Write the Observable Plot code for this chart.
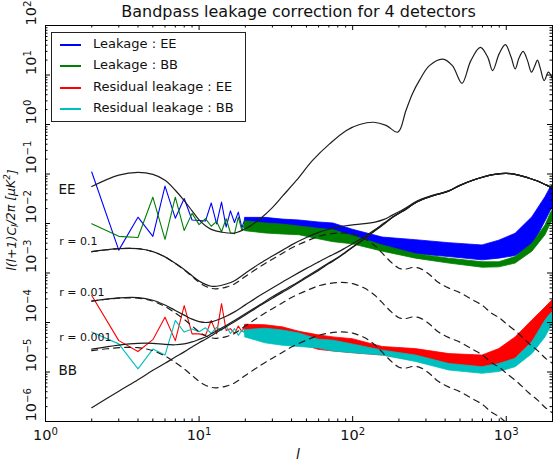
<!DOCTYPE html>
<html><head><meta charset="utf-8">
<script src="https://cdn.jsdelivr.net/npm/d3@7"></script>
<script src="https://cdn.jsdelivr.net/npm/@observablehq/plot@0.6"></script>
<style>
body{margin:0;background:#fff;font-family:"DejaVu Sans",sans-serif;}
#wrap{position:relative;width:559px;height:465px;overflow:hidden;}
#title{position:absolute;left:45px;width:507px;top:2px;text-align:center;font-size:16px;color:#111;white-space:nowrap;}
#chart{position:absolute;left:0;top:24px;}
#legend{position:absolute;left:51px;top:32px;width:193px;height:88px;border:1px solid #222;background:#fff;}
.row{position:absolute;left:0;height:18px;width:190px;}
.sw{position:absolute;left:8px;top:9px;width:21px;height:2px;}
.lt{position:absolute;left:41px;top:0;font-size:13px;line-height:18px;color:#111;white-space:nowrap;font-family:"DejaVu Sans";}
</style></head><body>
<div id="wrap">
<div id="title">Bandpass leakage correction for 4 detectors</div>
<div id="chart"></div>
<div id="legend"></div>
</div>
<script>
// ---------- low-multipole per-l values of the measured spectra ----------
const ellLow = [2,3,4,5,6,7,8,9,10,11,12,13,14,15,16,17,18,19,20];
const blueLow  = [0.11,0.0029,0.0134,0.0055,0.057,0.0128,0.032,0.0118,0.0115,0.0112,0.026,0.0098,0.027,0.0085,0.018,0.0105,0.017,0.0082,0.013];
const greenLow = [0.0099,0.0055,0.0052,0.034,0.0048,0.034,0.0072,0.016,0.0095,0.0125,0.0088,0.011,0.0068,0.0125,0.0065,0.0062,0.0135,0.0072,0.0105];
const redLow   = [3.5e-4,4.3e-5,2.6e-5,4.5e-5,1.28e-4,4.3e-5,2.2e-4,5.9e-5,5.9e-5,5.5e-5,1.1e-4,5.9e-5,2.4e-4,6.9e-5,7.5e-5,6.0e-5,8.5e-5,6.5e-5,9.0e-5];
const cyanLow  = [6.4e-5,3.7e-5,1.16e-5,2.9e-5,2.2e-5,1.1e-4,6.4e-5,7.4e-5,6.5e-5,7.8e-5,6.0e-5,8.0e-5,7.0e-5,8.5e-5,6.0e-5,7.5e-5,5.5e-5,7.0e-5,6.0e-5];

// ---------- high-multipole noise envelopes (lower / upper) ----------
const bandEll = [20,27,35,45,60,75,100,157,258,426,700,900,1150,1480,1800,1950,2000];
const blueLo  = [8.0e-3,7.8e-3,7.0e-3,6.6e-3,5.6e-3,4.9e-3,4.0e-3,3.1e-3,2.4e-3,2.1e-3,1.8e-3,1.95e-3,2.2e-3,3.5e-3,1.1e-2,1.8e-2,2.0e-2];
const blueHi  = [1.3e-2,1.3e-2,1.2e-2,1.15e-2,1.05e-2,1.0e-2,7.5e-3,5.2e-3,4.6e-3,4.0e-3,3.6e-3,4.5e-3,6.2e-3,1.34e-2,3.4e-2,5.4e-2,5.8e-2];
const greenLo = [7.0e-3,6.3e-3,6.0e-3,5.8e-3,4.8e-3,4.2e-3,3.8e-3,2.7e-3,1.95e-3,1.55e-3,1.28e-3,1.3e-3,1.55e-3,2.7e-3,5.8e-3,9.8e-3,1.1e-2];
const greenHi = [1.1e-2,1.0e-2,9.5e-3,8.7e-3,7.8e-3,7.3e-3,5.6e-3,3.6e-3,2.4e-3,1.95e-3,1.65e-3,1.65e-3,2.1e-3,3.9e-3,9.1e-3,1.6e-2,1.8e-2];
const redLo   = [6.0e-5,5.0e-5,4.3e-5,3.7e-5,2.8e-5,2.6e-5,2.4e-5,2.15e-5,1.7e-5,1.35e-5,1.07e-5,1.25e-5,1.85e-5,4.0e-5,1.05e-4,1.5e-4,1.6e-4];
const redHi   = [9.0e-5,8.8e-5,8.0e-5,6.5e-5,5.5e-5,5.0e-5,4.6e-5,3.2e-5,2.9e-5,2.3e-5,2.15e-5,2.9e-5,5.0e-5,1.1e-4,2.0e-4,2.6e-4,2.8e-4];
const cyanLo  = [5.0e-5,3.8e-5,3.4e-5,3.2e-5,3.0e-5,2.6e-5,2.4e-5,2.15e-5,1.6e-5,1.07e-5,9.2e-6,1.0e-5,1.25e-5,2.3e-5,5.0e-5,8.0e-5,8.5e-5];
const cyanHi  = [7.0e-5,7.5e-5,6.9e-5,6.0e-5,4.5e-5,4.3e-5,3.6e-5,2.7e-5,2.15e-5,1.45e-5,1.25e-5,1.45e-5,1.85e-5,4.0e-5,1.1e-4,1.5e-4,1.6e-4];

// ---------- theory curves ----------
const ell = [2,3,4,5,6,7,8,9,10,11,12,13,15,17,20,25,30,35,40,50,60,70,80,90,100,120,140,160,180,200,220,250,280,320,360,420,500,600,700,800,900,1000,1200,1400,1600,1800,2000];
const lensBB = [1.9e-6,4.1e-6,7.0e-6,1.08e-5,1.5e-5,2.0e-5,2.55e-5,3.2e-5,3.9e-5,4.6e-5,5.4e-5,6.3e-5,8.2e-5,1.04e-4,1.42e-4,2.2e-4,3.1e-4,4.1e-4,5.2e-4,8.0e-4,1.13e-3,1.55e-3,2.0e-3,2.6e-3,3.3e-3,5.0e-3,7.2e-3,9.8e-3,1.3e-2,1.6e-2,1.9e-2,2.5e-2,3.0e-2,3.5e-2,3.9e-2,4.5e-2,5.9e-2,7.4e-2,8.6e-2,9.6e-2,0.101,0.103,0.095,0.083,0.072,0.061,0.052];
const total01 = [2.7e-3,3.1e-3,3.11e-3,2.71e-3,2.12e-3,1.57e-3,1.18e-3,8.8e-4,6.9e-4,5.9e-4,5.4e-4,5.4e-4,6.0e-4,7.0e-4,9.9e-4,1.57e-3,2.2e-3,2.9e-3,3.7e-3,5.2e-3,6.6e-3,7.65e-3,8.4e-3,9.0e-3,9.4e-3,9.9e-3,1.07e-2,1.21e-2,1.46e-2,1.73e-2,2.02e-2,2.63e-2,3.12e-2,3.59e-2,3.97e-2,4.55e-2,5.94e-2,7.43e-2,8.62e-2,9.62e-2,0.1011,0.1031,0.0951,0.083,0.072,0.061,0.052];
const total001 = [2.72e-4,3.14e-4,3.17e-4,2.81e-4,2.25e-4,1.75e-4,1.41e-4,1.17e-4,1.04e-4,1.0e-4,1.03e-4,1.11e-4,1.34e-4,1.64e-4,2.27e-4,3.55e-4,5.0e-4,6.6e-4,8.4e-4,1.24e-3,1.68e-3,2.16e-3,2.64e-3,3.24e-3,3.91e-3,5.49e-3,7.55e-3,1.02e-2,1.32e-2,1.61e-2,1.91e-2,2.51e-2,3.01e-2,3.51e-2,3.91e-2,4.5e-2,5.9e-2,7.4e-2,8.6e-2,9.6e-2,0.101,0.103,0.095,0.083,0.072,0.061,0.052];
const total0001 = [2.9e-5,3.5e-5,3.8e-5,3.8e-5,3.6e-5,3.55e-5,3.7e-5,4.05e-5,4.55e-5,5.1e-5,5.9e-5,6.8e-5,8.7e-5,1.1e-4,1.5e-4,2.3e-4,3.3e-4,4.35e-4,5.5e-4,8.4e-4,1.19e-3,1.61e-3,2.06e-3,2.66e-3,3.36e-3,5.05e-3,7.24e-3,9.82e-3,1.3e-2,1.6e-2,1.9e-2,2.5e-2,3.0e-2,3.5e-2,3.9e-2,4.5e-2,5.9e-2,7.4e-2,8.6e-2,9.6e-2,0.101,0.103,0.095,0.083,0.072,0.061,0.052];
const tensor01 = [2.7e-3,3.1e-3,3.1e-3,2.7e-3,2.1e-3,1.55e-3,1.15e-3,8.5e-4,6.5e-4,5.4e-4,4.9e-4,4.8e-4,5.2e-4,6.0e-4,8.5e-4,1.35e-3,1.9e-3,2.5e-3,3.2e-3,4.4e-3,5.5e-3,6.1e-3,6.4e-3,6.4e-3,6.1e-3,4.9e-3,3.5e-3,2.3e-3,1.6e-3,1.25e-3,1.2e-3,1.3e-3,1.2e-3,9.0e-4,6.5e-4,5.0e-4,4.0e-4,2.9e-4,2.2e-4,1.55e-4,1.25e-4,9.5e-5,6.0e-5,3.8e-5,2.7e-5,1.9e-5,1.5e-5];
const tensor001 = [2.7e-4,3.1e-4,3.1e-4,2.7e-4,2.1e-4,1.55e-4,1.15e-4,8.5e-5,6.5e-5,5.4e-5,4.9e-5,4.8e-5,5.2e-5,6.0e-5,8.5e-5,1.35e-4,1.9e-4,2.5e-4,3.2e-4,4.4e-4,5.5e-4,6.1e-4,6.4e-4,6.4e-4,6.1e-4,4.9e-4,3.5e-4,2.3e-4,1.6e-4,1.25e-4,1.2e-4,1.3e-4,1.2e-4,9.0e-5,6.5e-5,5.0e-5,4.0e-5,2.9e-5,2.2e-5,1.55e-5,1.25e-5,9.5e-6,6.0e-6,3.8e-6,2.7e-6,1.9e-6,1.5e-6];
const tensor0001 = [2.7e-5,3.1e-5,3.1e-5,2.7e-5,2.1e-5,1.55e-5,1.15e-5,8.5e-6,6.5e-6,5.4e-6,4.9e-6,4.8e-6,5.2e-6,6.0e-6,8.5e-6,1.35e-5,1.9e-5,2.5e-5,3.2e-5,4.4e-5,5.5e-5,6.1e-5,6.4e-5,6.4e-5,6.1e-5,4.9e-5,3.5e-5,2.3e-5,1.6e-5,1.25e-5,1.2e-5,1.3e-5,1.2e-5,9.0e-6,6.5e-6,5.0e-6,4.0e-6,2.9e-6,2.2e-6,1.55e-6,1.25e-6,9.5e-7,6.0e-7,3.8e-7,2.7e-7,1.9e-7,1.5e-7];

const eeEll = [2,3,4,5,6,7,8,9,10,11,12,14,17,20,25,30,35,43,55,71,91,111,137,165,197,222,245,272,316,386,446,515,588,678,757,815,900,986,1075,1143,1210,1288,1375,1460,1530,1597,1670,1766,1880,2000];
const eeVal = [0.056,0.095,0.108,0.098,0.075,0.047,0.029,0.018,0.0118,0.009,0.0076,0.0067,0.0064,0.0078,0.0125,0.021,0.036,0.074,0.19,0.41,0.76,1.0,1.11,0.96,0.70,1.9,4.2,7.8,15.5,21,15.5,6.8,19.5,36,23,12.3,27,41,23,13.3,22,30,19.5,11.4,15,20,13.3,7.7,11.4,8.3];

// ---------- labels ----------
const seriesNames = ["Leakage : EE","Leakage : BB","Residual leakage : EE","Residual leakage : BB"];
const seriesColors = ["#0000ff","#008000","#ff0000","#00bfbf"];
const yTickValues = [1e-6,1e-5,1e-4,1e-3,1e-2,1e-1,1e0,1e1,1e2];
const yTickLabels = ["10^\u22126","10^\u22125","10^\u22124","10^\u22123","10^\u22122","10^\u22121","10^0","10^1","10^2"];
const xTickValues = [1,10,100,1000];
const xTickLabels = ["10^0","10^1","10^2","10^3"];
const annotText = ["EE","r = 0.1","r = 0.01","r = 0.001","BB"];
const annotEll  = [1.215,1.23,1.23,1.23,1.215];
const annotVal  = [0.0486,4.3e-3,4.0e-4,5.0e-5,1.07e-5];
const annotSize = [13.5,11,11,11,13.5];

// ---------- build tables ----------
const low = ellLow.map((l,i)=>({l, blue:blueLow[i], green:greenLow[i], red:redLow[i], cyan:cyanLow[i]}));
const band = bandEll.map((l,i)=>({l, bl:blueLo[i], bh:blueHi[i], gl:greenLo[i], gh:greenHi[i], rl:redLo[i], rh:redHi[i], cl:cyanLo[i], ch:cyanHi[i]}));
const th = ell.map((l,i)=>({l, lens:lensBB[i], t01:total01[i], t001:total001[i], t0001:total0001[i], p01:tensor01[i], p001:tensor001[i], p0001:tensor0001[i]}));
const ee = eeEll.map((l,i)=>({l, v:eeVal[i]}));
const annots = annotText.map((t,i)=>({t, l:annotEll[i], v:annotVal[i], s:annotSize[i]}));

const W = 559, H = 441, mT = 1, mB = 44, mL = 45, mR = 7;
const frameH = H - mT - mB, frameW = W - mL - mR;
const minorX = [], minorY = [];
for (let e = 0; e <= 3; e++) for (let k = 2; k <= 9; k++) { const v = k * 10 ** e; if (v <= 2000) minorX.push(v); }
for (let e = -6; e <= 1; e++) for (let k = 2; k <= 9; k++) minorY.push(k * 10 ** e);

const ink = "#1e1e1e";
function bandMarks(lo, hi, col) {
  return [
    Plot.areaY(band, {x:"l", y1:lo, y2:hi, fill:col, stroke:col, strokeWidth:0.8, clip:true})
  ];
}
const lineOpt = {x:"l", stroke:ink, strokeWidth:1.2, curve:"catmull-rom", clip:true};
const dashOpt = {...lineOpt, strokeDasharray:"6,5"};

const plot = Plot.plot({
  width: W, height: H, marginTop: mT, marginBottom: mB, marginLeft: mL, marginRight: mR,
  x: {type:"log", domain:[1,2000], axis:null},
  y: {type:"log", domain:[1e-6,1e2], axis:null},
  style: {fontFamily:"DejaVu Sans", background:"white", color:"#111", overflow:"visible"},
  marks: [
    Plot.line(low, {x:"l", y:"blue", stroke:seriesColors[0], strokeWidth:1.1, clip:true}),
    ...bandMarks("bl","bh",seriesColors[0]),
    Plot.line(low, {x:"l", y:"green", stroke:seriesColors[1], strokeWidth:1.1, clip:true}),
    ...bandMarks("gl","gh",seriesColors[1]),
    Plot.line(low, {x:"l", y:"red", stroke:seriesColors[2], strokeWidth:1.1, clip:true}),
    ...bandMarks("rl","rh",seriesColors[2]),
    Plot.line(low, {x:"l", y:"cyan", stroke:seriesColors[3], strokeWidth:1.1, clip:true}),
    ...bandMarks("cl","ch",seriesColors[3]),
    Plot.line(ee, {...lineOpt, y:"v"}),
    Plot.line(th, {...lineOpt, y:"lens"}),
    Plot.line(th, {...lineOpt, y:"t01"}),
    Plot.line(th, {...lineOpt, y:"t001"}),
    Plot.line(th, {...lineOpt, y:"t0001"}),
    Plot.line(th, {...dashOpt, y:"p01"}),
    Plot.line(th, {...dashOpt, y:"p001"}),
    Plot.line(th, {...dashOpt, y:"p0001"}),
    Plot.text(annots, {x:"l", y:"v", text:"t", fontSize:"s", textAnchor:"start", fill:"#111"}),
    // ticks (inward, all four sides)
    Plot.tickX(xTickValues, {x:d=>d, insetTop:frameH-5, stroke:"#000"}),
    Plot.tickX(xTickValues, {x:d=>d, insetBottom:frameH-5, stroke:"#000"}),
    Plot.tickX(minorX, {x:d=>d, insetTop:frameH-2.5, stroke:"#000"}),
    Plot.tickX(minorX, {x:d=>d, insetBottom:frameH-2.5, stroke:"#000"}),
    Plot.tickY(yTickValues, {y:d=>d, insetRight:frameW-5, stroke:"#000"}),
    Plot.tickY(yTickValues, {y:d=>d, insetLeft:frameW-5, stroke:"#000"}),
    Plot.tickY(minorY, {y:d=>d, insetRight:frameW-2.5, stroke:"#000"}),
    Plot.tickY(minorY, {y:d=>d, insetLeft:frameW-2.5, stroke:"#000"}),
    Plot.frame({stroke:"#000", strokeWidth:1}),
    // tick labels
    Plot.text(xTickValues, {x:d=>d, text:(d,i)=>xTickLabels[i], frameAnchor:"bottom", dy:14, lineAnchor:"middle", fontSize:14.5, fill:"#111"}),
    Plot.text(yTickValues, {y:d=>d, text:(d,i)=>yTickLabels[i], frameAnchor:"left", dx:-14, rotate:-90, lineAnchor:"middle", fontSize:14.5, fill:"#111"})
  ]
});
document.getElementById("chart").appendChild(plot);

// superscripts for tick labels
const NS = "http://www.w3.org/2000/svg";
plot.querySelectorAll("text").forEach(t => {
  const m = t.textContent.match(/^10\^(.+)$/);
  if (m) {
    t.textContent = "10";
    const s = document.createElementNS(NS, "tspan");
    s.setAttribute("dy", "-0.55em");
    s.setAttribute("font-size", "0.7em");
    s.textContent = m[1];
    t.appendChild(s);
  }
});

// axis titles
const svg = d3.select(plot);
const yl = svg.append("text")
  .attr("transform", `translate(12,${mT + frameH/2 - 3}) rotate(-90)`)
  .attr("text-anchor", "middle").attr("dominant-baseline", "middle")
  .attr("font-size", 12.5).attr("font-style", "italic").attr("fill", "#111")
  .attr("font-family", "DejaVu Sans");
yl.append("tspan").text("l(l+1)C");
yl.append("tspan").attr("dy", "0.3em").attr("font-size", "0.7em").text("l");
yl.append("tspan").attr("dy", "-0.3em").text("/2\u03c0 [\u03bcK");
yl.append("tspan").attr("dy", "-0.45em").attr("font-size", "0.7em").text("2");
yl.append("tspan").attr("dy", "0.45em").text("]");
svg.append("text").attr("x", 298).attr("y", 435).attr("text-anchor", "middle")
  .attr("font-size", 14).attr("font-style", "italic").attr("fill", "#111")
  .attr("font-family", "DejaVu Sans").text("l");

// legend
const leg = document.getElementById("legend");
const rowTops = [2, 23, 45, 66];
seriesNames.forEach((name, i) => {
  const r = document.createElement("div"); r.className = "row"; r.style.top = rowTops[i] + "px";
  const sw = document.createElement("div"); sw.className = "sw"; sw.style.background = seriesColors[i];
  const lt = document.createElement("div"); lt.className = "lt"; lt.textContent = name;
  r.appendChild(sw); r.appendChild(lt); leg.appendChild(r);
});
</script>
</body></html>
